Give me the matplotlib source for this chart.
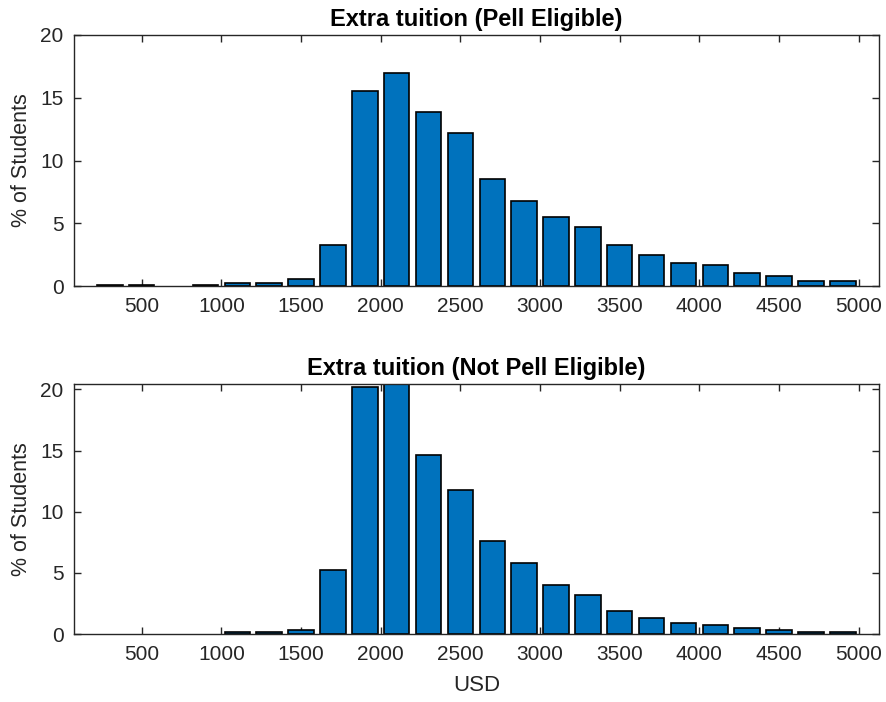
import matplotlib
matplotlib.use("Agg")
import matplotlib.pyplot as plt
import numpy as np

plt.rcParams['font.family'] = ['Liberation Sans', 'DejaVu Sans']

bin_centers = [300, 500, 700, 900, 1100, 1300, 1500, 1700, 1900, 2100, 2300, 2500,
               2700, 2900, 3100, 3300, 3500, 3700, 3900, 4100, 4300, 4500, 4700, 4900]
pell = [0.1, 0.1, 0.0, 0.1, 0.25, 0.25, 0.55, 3.3, 15.5, 17.0, 13.9, 12.2,
        8.5, 6.8, 5.5, 4.7, 3.3, 2.5, 1.8, 1.65, 1.05, 0.8, 0.4, 0.4]
not_pell = [0.0, 0.0, 0.0, 0.0, 0.15, 0.15, 0.3, 5.2, 20.2, 22.0, 14.6, 11.8,
            7.6, 5.8, 4.0, 3.2, 1.9, 1.3, 0.9, 0.75, 0.45, 0.3, 0.15, 0.15]
xticks = [500, 1000, 1500, 2000, 2500, 3000, 3500, 4000, 4500, 5000]
titles = ["Extra tuition (Pell Eligible)", "Extra tuition (Not Pell Eligible)"]

fig = plt.figure(figsize=(8.86, 7.02), dpi=100)
W, H = 886, 702
axes_px = [(74, 35, 879, 286), (74, 384, 879, 634)]
ylims = [(0, 20), (0, 20.44)]
data = [pell, not_pell]
gray = '#262626'

for i, (l, t, r, b) in enumerate(axes_px):
    ax = fig.add_axes([l / W, 1 - b / H, (r - l) / W, (b - t) / H])
    vals = np.array(data[i])
    lws = [1.2 if v > 0 else 0 for v in vals]
    ax.bar(bin_centers, vals, width=160, color='#0072BD', edgecolor='black',
           linewidth=lws, zorder=2)
    ax.set_xlim(75, 5127)
    ax.set_ylim(*ylims[i])
    ax.set_xticks(xticks)
    ax.set_yticks([0, 5, 10, 15, 20])
    ax.tick_params(direction='in', top=True, right=True, length=5, width=1,
                   colors=gray, labelsize=15)
    ax.tick_params(axis='x', pad=8)
    ax.tick_params(axis='y', pad=7.5)
    for s in ax.spines.values():
        s.set_color(gray)
        s.set_linewidth(1.0)
    ax.set_title(titles[i], fontsize=17, fontweight='bold', color='black', pad=6.5)
    ax.set_ylabel('% of Students', fontsize=15.5, color=gray, labelpad=6)
    if i == 1:
        ax.set_xlabel('USD', fontsize=16, color=gray, labelpad=8)

fig.savefig('out.png', dpi=100)
